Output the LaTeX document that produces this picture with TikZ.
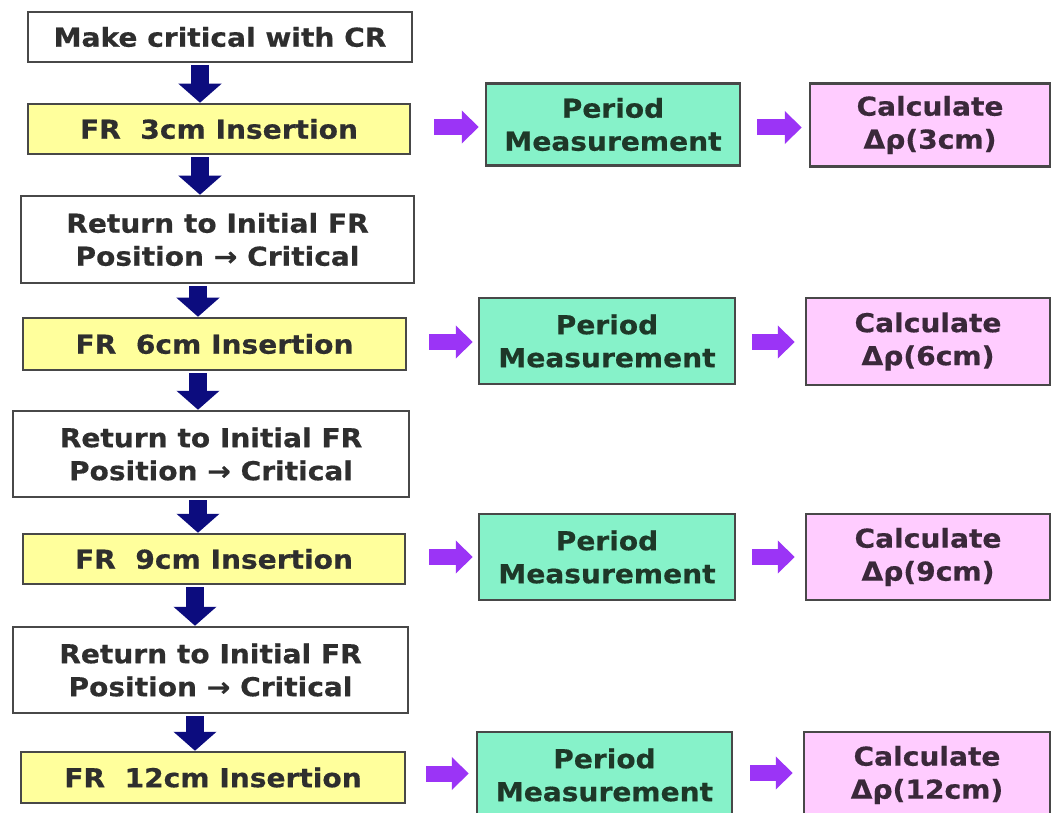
\documentclass[tikz,border=0pt]{standalone}
\usepackage{fontspec}
\newfontfamily\vfont[FakeStretch=1.08,FakeBold=0.5]{DejaVu Sans}
\usetikzlibrary{arrows.meta}
\definecolor{navyarr}{HTML}{0C0C7E}
\definecolor{purarr}{HTML}{9B34F6}
\definecolor{yelfill}{HTML}{FFFF9C}
\definecolor{grnfill}{HTML}{86F2C9}
\definecolor{pnkfill}{HTML}{FFCCFF}
\definecolor{bordc}{HTML}{484848}
\definecolor{txtc}{HTML}{2E2E2E}
\definecolor{gtxt}{HTML}{1E3828}
\definecolor{ptxt}{HTML}{3A283A}
\tikzset{
  box/.style={draw=bordc, line width=2.5pt, inner sep=0pt, align=center,
    font=\vfont\bfseries\fontsize{26}{33}\selectfont, text=txtc},
  whitebox/.style={box, fill=white},
  yellowbox/.style={box, fill=yelfill},
  greenbox/.style={box, fill=grnfill, text=gtxt},
  pinkbox/.style={box, fill=pnkfill, text=ptxt},
  downarrow/.style={draw=navyarr, line width=18pt, shorten <=2pt,
    -{Triangle[width=42pt,length=19pt]}},
  rightarrow/.style={draw=purarr, line width=16pt,
    -{Triangle[width=32pt,length=17pt]}}
}
\begin{document}
\begin{tikzpicture}[x=1pt,y=-1pt]
\useasboundingbox (0,0) rectangle (1053,813);
\clip (0,0) rectangle (1053,813);
\fill[white] (0,0) rectangle (1053,813);
% left column
\node[whitebox, minimum width=384pt, minimum height=50pt] (b1) at (220,37) {Make critical with CR};
\node[yellowbox, minimum width=382pt, minimum height=50pt] (b2) at (219,129) {FR\ \ 3cm Insertion};
\node[whitebox, minimum width=393pt, minimum height=87pt] (b3) at (217.5,239.5) {Return to Initial FR\\Position → Critical};
\node[yellowbox, minimum width=383pt, minimum height=52pt] (b4) at (214.5,344) {FR\ \ 6cm Insertion};
\node[whitebox, minimum width=396pt, minimum height=86pt] (b5) at (211,454) {Return to Initial FR\\Position → Critical};
\node[yellowbox, minimum width=382pt, minimum height=50pt] (b6) at (214,559) {FR\ \ 9cm Insertion};
\node[whitebox, minimum width=395pt, minimum height=86pt] (b7) at (210.5,670) {Return to Initial FR\\Position → Critical};
\node[yellowbox, minimum width=384pt, minimum height=51pt] (b8) at (213,777.5) {FR\ \ 12cm Insertion};
% green column
\node[greenbox, minimum width=254pt, minimum height=82pt] (g1) at (613,124.5) {Period\\Measurement};
\node[greenbox, minimum width=256pt, minimum height=86pt] (g2) at (607,341) {Period\\Measurement};
\node[greenbox, minimum width=256pt, minimum height=86pt] (g3) at (607,557) {Period\\Measurement};
\node[greenbox, minimum width=255pt, minimum height=86pt] (g4) at (604.5,775) {Period\\Measurement};
% pink column
\node[pinkbox, minimum width=240pt, minimum height=83pt] (p1) at (930,125) {Calculate\\Δρ(3cm)};
\node[pinkbox, minimum width=244pt, minimum height=87pt] (p2) at (928,341.5) {Calculate\\Δρ(6cm)};
\node[pinkbox, minimum width=244pt, minimum height=86pt] (p3) at (928,557) {Calculate\\Δρ(9cm)};
\node[pinkbox, minimum width=246pt, minimum height=86pt] (p4) at (927,775) {Calculate\\Δρ(12cm)};
% down arrows
\coordinate (ax1) at (200,0);
\coordinate (ax2) at (198,0);
\coordinate (ax3) at (195,0);
\draw[downarrow] (b1.south -| ax1) -- (b2.north -| ax1);
\draw[downarrow] (b2.south -| ax1) -- (b3.north -| ax1);
\draw[downarrow] (b3.south -| ax2) -- (b4.north -| ax2);
\draw[downarrow] (b4.south -| ax2) -- (b5.north -| ax2);
\draw[downarrow] (b5.south -| ax2) -- (b6.north -| ax2);
\draw[downarrow] (b6.south -| ax3) -- (b7.north -| ax3);
\draw[downarrow] (b7.south -| ax3) -- (b8.north -| ax3);
% right arrows
\draw[rightarrow, shorten <=23pt, shorten >=6pt] ([yshift=2pt]b2.east) -- ([yshift=2pt]b2.east -| g1.west);
\draw[rightarrow, shorten <=22pt, shorten >=5pt] ([yshift=2pt]b4.east) -- ([yshift=2pt]b4.east -| g2.west);
\draw[rightarrow, shorten <=23pt, shorten >=5pt] ([yshift=2pt]b6.east) -- ([yshift=2pt]b6.east -| g3.west);
\draw[rightarrow, shorten <=20pt, shorten >=7pt] ([yshift=4pt]b8.east) -- ([yshift=4pt]b8.east -| g4.west);
\draw[rightarrow, shorten <=16pt, shorten >=7pt] ([yshift=-3pt]g1.east) -- ([yshift=-3pt]g1.east -| p1.west);
\draw[rightarrow, shorten <=16pt, shorten >=10pt] ([yshift=-1pt]g2.east) -- ([yshift=-1pt]g2.east -| p2.west);
\draw[rightarrow, shorten <=16pt, shorten >=10pt] (g3.east) -- (g3.east -| p3.west);
\draw[rightarrow, shorten <=17pt, shorten >=10pt] ([yshift=2pt]g4.east) -- ([yshift=2pt]g4.east -| p4.west);
\end{tikzpicture}
\end{document}
